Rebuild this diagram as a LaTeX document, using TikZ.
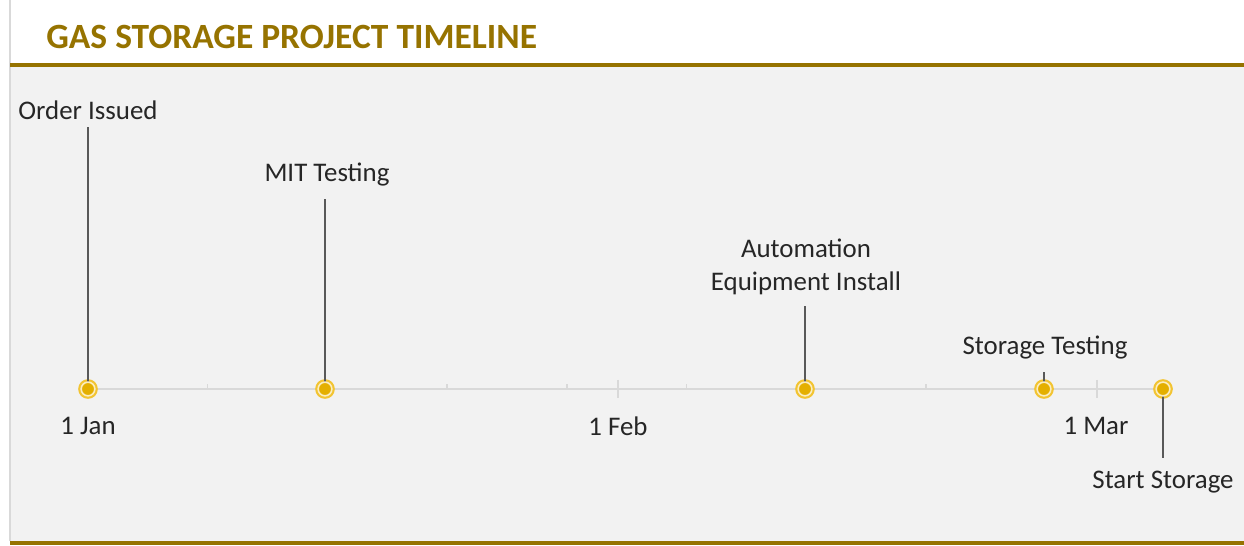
\documentclass[tikz,border=0pt]{standalone}
\usepackage{fontspec}
\setmainfont{Carlito}
\definecolor{titlegold}{RGB}{150,115,0}
\definecolor{panelgray}{RGB}{242,242,242}
\definecolor{axisgray}{RGB}{217,217,217}
\definecolor{leadergray}{RGB}{89,89,89}
\definecolor{markgold}{RGB}{228,175,0}
\definecolor{ringgold}{RGB}{242,196,50}
\usetikzlibrary{positioning}

\tikzset{
  milestone/.style={circle,fill=ringgold,inner sep=0pt,minimum size=11.2pt},
  dot/.style={circle,fill=markgold,draw=ringgold!30!white,line width=0.9pt,
    inner sep=0pt,minimum size=7.8pt},
  leader/.style={draw=leadergray,line width=0.8pt},
  tasklabel/.style={font=\fontsize{15.3}{18.7}\selectfont,text=black!85,align=center,inner sep=1pt},
  datelabel/.style={font=\fontsize{15.3}{18.7}\selectfont,text=black!85,inner sep=1pt}
}

\begin{document}
\begin{tikzpicture}[x=0.02cm,y=-0.02cm]
    \useasboundingbox (0,0) rectangle (1244,546);
    % Panel
    \fill[white] (0,0) rectangle (1244,546);
    \fill[panelgray] (10,65) rectangle (1244,541);
    \draw[axisgray,line width=1.2pt] (10,0) -- (10,541);
    \draw[titlegold,line width=2pt] (10,65) -- (1244,65);
    \draw[titlegold,line width=2pt] (10,543) -- (1244,543);
    \node[anchor=west,text=titlegold,font=\fontsize{20.2}{23}\selectfont\bfseries,inner sep=0pt]
        (title) at (46,37) {GAS STORAGE PROJECT TIMELINE};

    % Axis and ticks (one a week, longer on the first of the month)
    \coordinate (start) at (88,389);
    \coordinate (end) at (1163,389);
    \draw[axisgray,line width=1pt] (start) -- (end);
    \foreach \d in {7,14,...,56}
        \draw[axisgray,line width=0.8pt] (88+\d*17.1,389) -- ++(0,-5);
    \foreach \d in {31,59}
        \draw[axisgray,line width=0.8pt] (88+\d*17.1,380) -- ++(0,18);

    % Dates
    \node[datelabel] (jan) at (88,426) {1 Jan};
    \node[datelabel] (feb) at (618,426) {1 Feb};
    \node[datelabel] (mar) at (1096,426) {1 Mar};

    % Milestones
    \node[tasklabel] (order) at (88,110) {Order Issued};
    \node[tasklabel] (mit) at (327,175) {MIT Testing};
    \node[tasklabel] (auto) at (806,267) {Automation\\Equipment Install};
    \node[tasklabel] (stortest) at (1045,348) {Storage Testing};
    \node[tasklabel] (startstor) at (1163,482) {Start Storage};

    \node[milestone] (m1) at (88,389) {};
    \node[milestone] (m2) at (325,389) {};
    \node[milestone] (m3) at (805,389) {};
    \node[milestone] (m4) at (1044,389) {};
    \node[milestone] (m5) at (1163,389) {};

    \draw[leader] (m1.center) -- ([yshift=-3pt]order.south -| m1);
    \draw[leader] (m2.center) -- ([yshift=-6pt]mit.south -| m2);
    \draw[leader] (m3.center) -- ([yshift=-5pt]auto.south -| m3);
    \draw[leader] (m4.center) -- ([yshift=-6pt]stortest.south -| m4);
    \draw[leader] (m5.center) -- ([yshift=6pt]startstor.north -| m5);

    \foreach \m in {m1,m2,m3,m4,m5}
        \node[dot] at (\m) {};
\end{tikzpicture}
\end{document}
